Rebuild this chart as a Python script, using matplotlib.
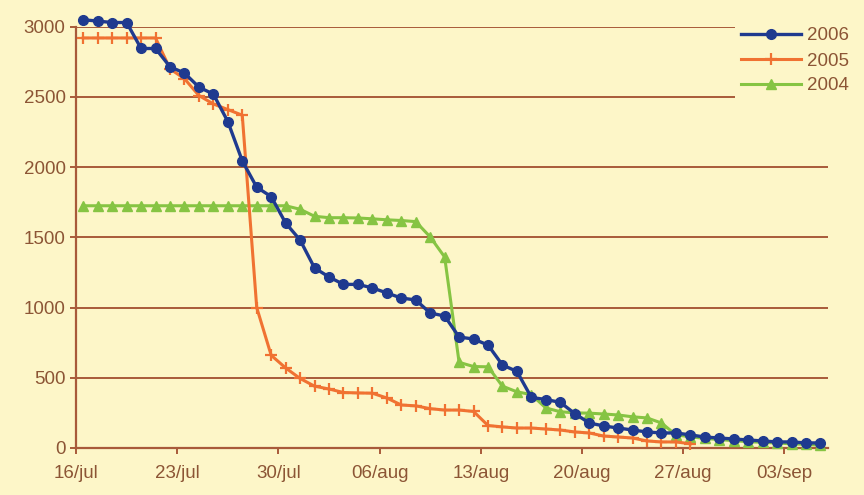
import matplotlib.pyplot as plt
from matplotlib.patches import Rectangle
import numpy as np

plt.rcParams['font.family'] = ['Liberation Sans', 'DejaVu Sans']

# daily values, 16/jul .. 05/sep
days = [f"{d:02d}/jul" for d in range(16, 32)] + [f"{d:02d}/aug" for d in range(1, 32)] + [f"{d:02d}/sep" for d in range(1, 6)]
tick_labels = ["16/jul", "23/jul", "30/jul", "06/aug", "13/aug", "20/aug", "27/aug", "03/sep"]

y2006 = [3050, 3040, 3030, 3030, 2845, 2845, 2715, 2670, 2570, 2520, 2325, 2045, 1857,
         1790, 1602, 1481, 1282, 1218, 1165, 1165, 1140, 1104, 1068, 1054, 961, 940,
         790, 776, 733, 591, 545, 360, 345, 325, 245, 178, 157, 142, 128, 114, 107, 107,
         93, 78, 71, 64, 57, 50, 43, 43, 36, 36]
y2005 = [2920, 2920, 2920, 2920, 2920, 2920, 2700, 2630, 2510, 2450, 2410, 2370, 1000,
         660, 570, 495, 440, 420, 395, 392, 390, 356, 306, 300, 280, 270, 270, 260,
         160, 150, 142, 142, 135, 128, 114, 107, 85, 78, 71, 50, 43, 43, 30]
y2004 = [1725] * 15 + [1700, 1650, 1640, 1640, 1638, 1632, 1625, 1620, 1612, 1503, 1360,
         610, 580, 578, 440, 400, 380, 285, 258, 250, 248, 242, 235, 222, 214, 178, 93,
         80, 68, 60, 52, 45, 40, 35, 30, 25, 20]

bg = "#fdf6c8"
grid_c = "#a85a3a"
text_c = "#8c5535"

fig = plt.figure(figsize=(8.64, 4.95), dpi=100, facecolor=bg)
ax = fig.add_axes([0.088, 0.095, 0.870, 0.851], facecolor=bg)

x = np.arange(len(days)) + 0.5
ax.plot(x[:len(y2004)], y2004, color="#86c443", lw=2.2, marker="^", ms=6.5,
        label="2004", clip_on=False, zorder=3)
ax.plot(x[:len(y2005)], y2005, color="#f07232", lw=2.2, marker="+", ms=8, mew=1.6,
        label="2005", clip_on=False, zorder=4)
ax.plot(x[:len(y2006)], y2006, color="#1f3a8f", lw=2.4, marker="o", ms=7,
        label="2006", clip_on=False, zorder=5)

ax.set_xlim(0, len(days))
ax.set_ylim(0, 3000)
ax.set_yticks(np.arange(0, 3001, 500))
ax.set_xticks(np.arange(0, len(days), 7))
ax.set_xticklabels(tick_labels)
ax.yaxis.grid(True, color=grid_c, lw=1.4)
ax.set_axisbelow(True)

for s in ["top", "right"]:
    ax.spines[s].set_visible(False)
for s in ["left", "bottom"]:
    ax.spines[s].set_color(grid_c)
    ax.spines[s].set_linewidth(1.6)
ax.tick_params(colors=grid_c, labelcolor=text_c, labelsize=13.5, length=4, width=1.4)
ax.tick_params(axis="x", pad=8)

# legend box hides the top gridlines
fig.patches.append(Rectangle((0.851, 0.79), 0.149, 0.19, transform=fig.transFigure,
                             facecolor=bg, edgecolor="none", zorder=2))
h, l = ax.get_legend_handles_labels()
leg = fig.legend(h[::-1], l[::-1], loc="upper right", bbox_to_anchor=(1.0, 0.975),
                 frameon=False, fontsize=13.5, handlelength=3.2, labelspacing=0.42,
                 borderpad=0.3, handletextpad=0.3)
for t in leg.get_texts():
    t.set_color(text_c)

plt.savefig("out.png", dpi=100, facecolor=bg)
